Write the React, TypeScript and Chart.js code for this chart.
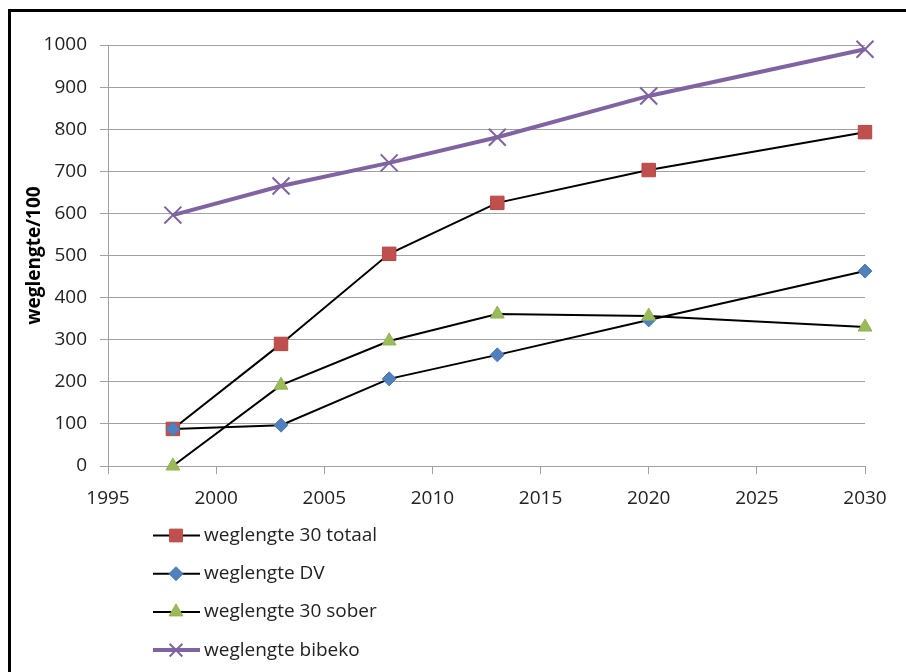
import React, { useEffect, useRef } from "react";
import { Chart, registerables } from "chart.js";
import { drawPoint } from "chart.js/helpers";

Chart.register(...registerables);

const years = [1998, 2003, 2008, 2013, 2020, 2030];
const totaal = [88, 290, 504, 625, 703, 793];
const dv = [88, 97, 207, 264, 347, 463];
const sober = [0, 192, 297, 361, 356, 330];
const bibeko = [596, 665, 720, 781, 879, 990];
const seriesNames = [
  "weglengte 30 totaal",
  "weglengte DV",
  "weglengte 30 sober",
  "weglengte bibeko",
];
const yTitle = "weglengte/100";

const pts = (vals: number[]) => years.map((x, i) => ({ x, y: vals[i] }));

const FONT = "'Open Sans', 'Liberation Sans', sans-serif";

const framePlugin = {
  id: "frame",
  beforeDraw(chart: any) {
    const ctx = chart.ctx;
    ctx.save();
    ctx.fillStyle = "#ffffff";
    ctx.fillRect(0, 0, chart.width, chart.height);
    ctx.fillStyle = "#000000";
    ctx.fillRect(8, 9, chart.width, 3);
    ctx.fillRect(8, 9, 3, chart.height);
    ctx.restore();
  },
};

const legendPlugin = {
  id: "customLegend",
  afterDraw(chart: any) {
    const ctx = chart.ctx;
    ctx.save();
    const startY = 535.5;
    const gap = 38.2;
    chart.data.datasets.forEach((ds: any, i: number) => {
      const y = startY + i * gap;
      ctx.beginPath();
      ctx.strokeStyle = ds.borderColor;
      ctx.lineWidth = ds.borderWidth;
      ctx.moveTo(153, y);
      ctx.lineTo(200, y);
      ctx.stroke();
      ctx.fillStyle = ds.pointBackgroundColor;
      ctx.strokeStyle = ds.pointBorderColor;
      ctx.lineWidth = ds.pointBorderWidth;
      drawPoint(
        ctx,
        {
          pointStyle: ds.pointStyle,
          radius: ds.legendRadius,
          borderWidth: ds.pointBorderWidth,
          rotation: 0,
        },
        176,
        y
      );
      ctx.fillStyle = "#222222";
      ctx.font = `19px ${FONT}`;
      ctx.textBaseline = "middle";
      ctx.textAlign = "left";
      ctx.fillText(ds.label, 204, y);
    });
    ctx.restore();
  },
};

export default function App() {
  const ref = useRef<HTMLCanvasElement | null>(null);
  useEffect(() => {
    document.body.style.margin = "0";
    if (!ref.current) return;
    const chart = new Chart(ref.current, {
      type: "line",
      data: {
        datasets: [
          {
            label: seriesNames[0],
            data: pts(totaal),
            borderColor: "#000000",
            borderWidth: 2,
            pointStyle: "rect",
            pointRadius: 9.5,
            legendRadius: 9,
            pointBackgroundColor: "#C0504D",
            pointBorderColor: "#B84643",
            pointBorderWidth: 1,
            clip: false,
            order: 4,
          } as any,
          {
            label: seriesNames[1],
            data: pts(dv),
            borderColor: "#000000",
            borderWidth: 2,
            pointStyle: "rectRot",
            pointRadius: 7,
            legendRadius: 7,
            pointBackgroundColor: "#4F81BD",
            pointBorderColor: "#4A7AB5",
            pointBorderWidth: 1,
            clip: false,
            order: 3,
          } as any,
          {
            label: seriesNames[2],
            data: pts(sober),
            borderColor: "#000000",
            borderWidth: 2,
            pointStyle: "triangle",
            pointRadius: 8,
            legendRadius: 8,
            pointBackgroundColor: "#9BBB59",
            pointBorderColor: "#93B255",
            pointBorderWidth: 1,
            clip: false,
            order: 2,
          } as any,
          {
            label: seriesNames[3],
            data: pts(bibeko),
            borderColor: "#8064A2",
            borderWidth: 4,
            pointStyle: "crossRot",
            pointRadius: 12,
            legendRadius: 9,
            pointBackgroundColor: "#8064A2",
            pointBorderColor: "#8064A2",
            pointBorderWidth: 2,
            clip: false,
            order: 1,
          } as any,
        ],
      },
      options: {
        responsive: false,
        animation: false,
        layout: { padding: { left: 0, right: 41, top: 45, bottom: 0 } },
        plugins: {
          legend: { display: false },
          tooltip: { enabled: false },
        },
        scales: {
          x: {
            type: "linear",
            min: 1995,
            max: 2030,
            afterFit: (s: any) => {
              s.height = 206;
            },
            ticks: {
              stepSize: 5,
              padding: 13,
              color: "#222222",
              font: { family: FONT, size: 19 },
              maxRotation: 0,
              callback: (v: any) => String(v),
            },
            grid: {
              drawOnChartArea: false,
              drawTicks: true,
              tickLength: 8,
              color: "#A0A0A0",
            },
            border: { color: "#A0A0A0", width: 1 },
          },
          y: {
            min: 0,
            max: 1000,
            afterFit: (s: any) => {
              s.width = 108;
            },
            ticks: {
              stepSize: 100,
              padding: 13,
              color: "#222222",
              font: { family: FONT, size: 19 },
              callback: (v: any) => String(v),
            },
            grid: {
              drawTicks: true,
              tickLength: 8,
              color: "#A0A0A0",
            },
            border: { color: "#A0A0A0", width: 1 },
            title: {
              display: true,
              text: yTitle,
              color: "#000000",
              font: { family: FONT, size: 19, weight: "bold" },
              padding: { top: 23, bottom: 0 },
            },
          },
        },
      },
      plugins: [framePlugin, legendPlugin],
    });
    return () => chart.destroy();
  }, []);
  return (
    <div style={{ width: 906, height: 672 }}>
      <canvas ref={ref} width={906} height={672} style={{ display: "block" }} />
    </div>
  );
}
